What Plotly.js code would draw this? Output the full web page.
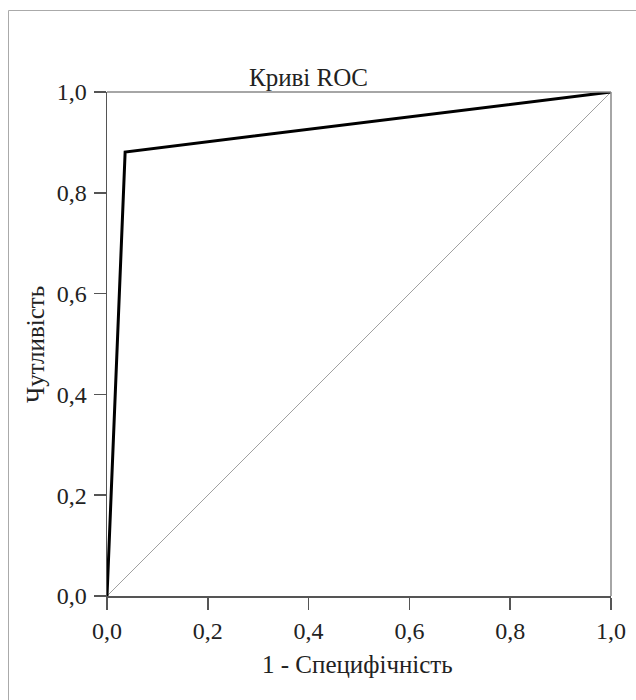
<!DOCTYPE html>
<html><head><meta charset="utf-8">
<script src="https://cdn.plot.ly/plotly-3.0.1.min.js"></script>
<style>body{margin:0;background:#fff}#chart{width:636px;height:700px}</style>
</head><body><div id="chart"></div>
<script>
// ROC curve data
const rocX = [0, 0.036, 1];      // 1 - Specificity
const rocY = [0, 0.881, 1];      // Sensitivity
const refX = [0, 1];             // reference diagonal
const refY = [0, 1];
const tickVals = [0, 0.2, 0.4, 0.6, 0.8, 1.0];
const tickText = ['0,0', '0,2', '0,4', '0,6', '0,8', '1,0'];
const titleText = 'Криві ROC';
const xTitle = '1 - Специфічність';
const yTitle = 'Чутливість';

const font = 'Liberation Serif';
const L = 107, R = 25, T = 92, B = 104, PW = 636 - L - R, PH = 700 - T - B;
const px = v => (v - L) / PW;
const py = v => (700 - B - v) / PH;

const traces = [
  {x: refX, y: refY, mode: 'lines', line: {color: '#a0a0a0', width: 1}, hoverinfo: 'skip'},
  {x: rocX, y: rocY, mode: 'lines', line: {color: '#000', width: 3}}
];

const axisBase = {
  range: [0, 1], tickvals: tickVals, ticktext: tickText,
  ticks: 'outside', ticklen: 12, tickwidth: 1.5, tickcolor: '#555',
  showline: true, linecolor: '#555', linewidth: 1.5,
  showgrid: false, zeroline: false, fixedrange: true,
  tickfont: {family: font, size: 24, color: '#222'}
};

const layout = {
  width: 636, height: 700,
  font: {family: font, size: 24, color: '#222'},
  margin: {l: L, r: R, t: T, b: B},
  paper_bgcolor: '#fff', plot_bgcolor: '#fff',
  showlegend: false,
  xaxis: Object.assign({}, axisBase, {ticklabelstandoff: 1}),
  yaxis: Object.assign({}, axisBase, {ticklabelstandoff: 2}),
  shapes: [
    {type: 'line', xref: 'paper', yref: 'paper', x0: 0, x1: 1, y0: 1, y1: 1, line: {color: '#888', width: 1.5}},
    {type: 'line', xref: 'paper', yref: 'paper', x0: 1, x1: 1, y0: 0, y1: 1, line: {color: '#888', width: 1.5}},
    {type: 'line', xref: 'paper', yref: 'paper', x0: px(8.5), x1: px(8.5), y0: py(10.5), y1: py(705), line: {color: '#aaa', width: 1}},
    {type: 'line', xref: 'paper', yref: 'paper', x0: px(8.5), x1: px(640), y0: py(10.5), y1: py(10.5), line: {color: '#aaa', width: 1}}
  ],
  annotations: [
    {text: titleText, xref: 'paper', yref: 'paper', x: px(308), y: py(77), showarrow: false,
     xanchor: 'center', yanchor: 'middle', font: {family: font, size: 25, color: '#222'}},
    {text: xTitle, xref: 'paper', yref: 'paper', x: px(357), y: py(664), showarrow: false,
     xanchor: 'center', yanchor: 'middle', font: {family: font, size: 25, color: '#222'}},
    {text: yTitle, xref: 'paper', yref: 'paper', x: px(35), y: py(345), showarrow: false, textangle: -90,
     xanchor: 'center', yanchor: 'middle', font: {family: font, size: 25, color: '#222'}}
  ]
};

Plotly.newPlot('chart', traces, layout, {displayModeBar: false, staticPlot: true});
</script></body></html>
